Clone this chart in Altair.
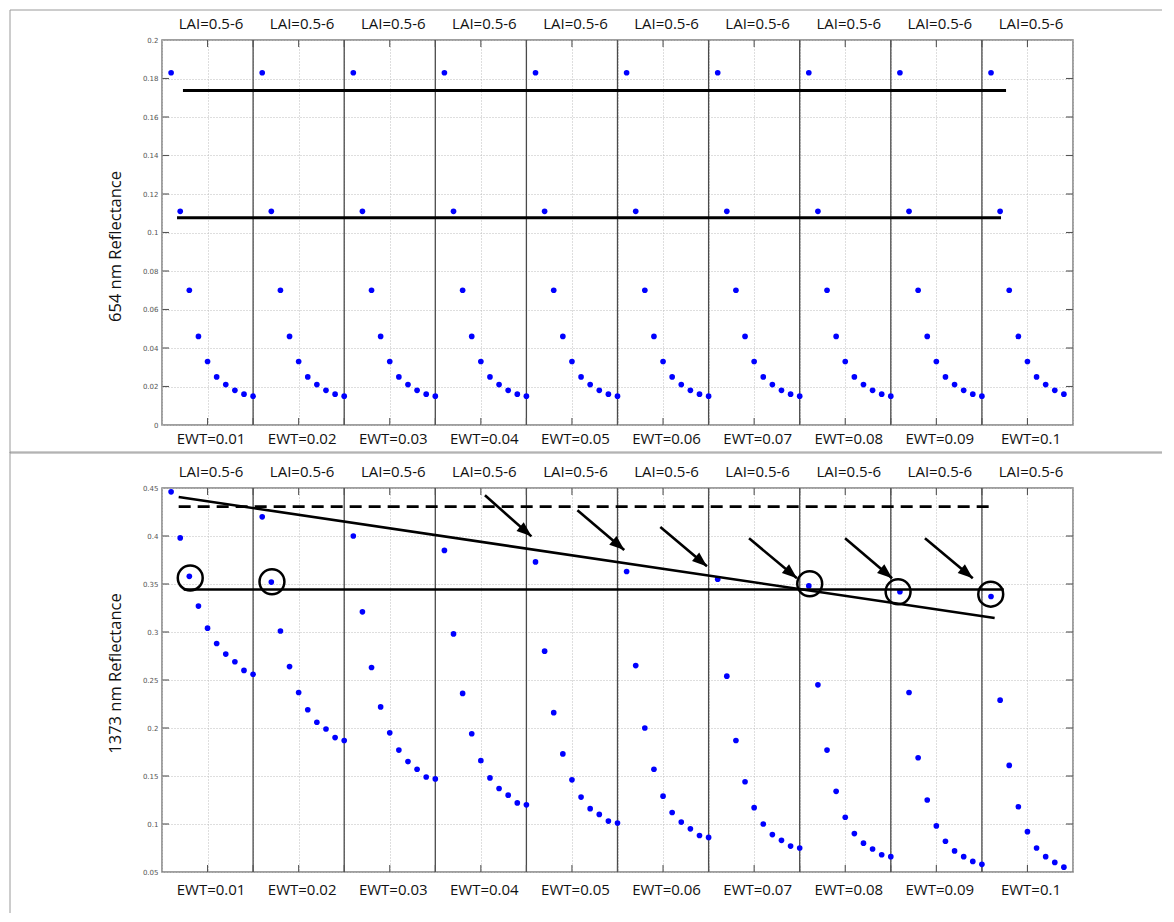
import json
import altair as alt
import pandas as pd

# ---------------- data ----------------
ewt_labels = ["EWT=0.01", "EWT=0.02", "EWT=0.03", "EWT=0.04", "EWT=0.05",
              "EWT=0.06", "EWT=0.07", "EWT=0.08", "EWT=0.09", "EWT=0.1"]
lai_labels = ["LAI=0.5-6"] * 10

# 654 nm reflectance, one list per EWT group (LAI increasing)
r654 = [
    [0.183, 0.111, 0.070, 0.046, 0.033, 0.025, 0.021, 0.018, 0.016, 0.015],
    [0.183, 0.111, 0.070, 0.046, 0.033, 0.025, 0.021, 0.018, 0.016, 0.015],
    [0.183, 0.111, 0.070, 0.046, 0.033, 0.025, 0.021, 0.018, 0.016, 0.015],
    [0.183, 0.111, 0.070, 0.046, 0.033, 0.025, 0.021, 0.018, 0.016, 0.015],
    [0.183, 0.111, 0.070, 0.046, 0.033, 0.025, 0.021, 0.018, 0.016, 0.015],
    [0.183, 0.111, 0.070, 0.046, 0.033, 0.025, 0.021, 0.018, 0.016, 0.015],
    [0.183, 0.111, 0.070, 0.046, 0.033, 0.025, 0.021, 0.018, 0.016, 0.015],
    [0.183, 0.111, 0.070, 0.046, 0.033, 0.025, 0.021, 0.018, 0.016, 0.015],
    [0.183, 0.111, 0.070, 0.046, 0.033, 0.025, 0.021, 0.018, 0.016, 0.015],
    [0.183, 0.111, 0.070, 0.046, 0.033, 0.025, 0.021, 0.018, 0.016],
]

# 1373 nm reflectance
r1373 = [
    [0.446, 0.398, 0.358, 0.327, 0.304, 0.288, 0.277, 0.269, 0.260, 0.256],
    [0.420, 0.352, 0.301, 0.264, 0.237, 0.219, 0.206, 0.199, 0.190, 0.187],
    [0.400, 0.321, 0.263, 0.222, 0.195, 0.177, 0.165, 0.157, 0.149, 0.147],
    [0.385, 0.298, 0.236, 0.194, 0.166, 0.148, 0.137, 0.130, 0.122, 0.120],
    [0.373, 0.280, 0.216, 0.173, 0.146, 0.128, 0.116, 0.110, 0.103, 0.101],
    [0.363, 0.265, 0.200, 0.157, 0.129, 0.112, 0.102, 0.095, 0.088, 0.086],
    [0.355, 0.254, 0.187, 0.144, 0.117, 0.100, 0.089, 0.083, 0.077, 0.075],
    [0.348, 0.245, 0.177, 0.134, 0.107, 0.090, 0.080, 0.074, 0.068, 0.066],
    [0.342, 0.237, 0.169, 0.125, 0.098, 0.082, 0.072, 0.066, 0.061, 0.058],
    [0.337, 0.229, 0.161, 0.118, 0.092, 0.075, 0.066, 0.060, 0.055],
]

top_yticks = [0, 0.02, 0.04, 0.06, 0.08, 0.1, 0.12, 0.14, 0.16, 0.18, 0.2]
bot_yticks = [0.05, 0.1, 0.15, 0.2, 0.25, 0.3, 0.35, 0.4, 0.45]
x_ticks = [0, 5, 10, 15, 20, 25, 30, 35, 40, 45, 50, 55, 60, 65, 70, 75, 80, 85, 90, 95, 100]
separators = [10, 20, 30, 40, 50, 60, 70, 80, 90]
group_centres = [5, 15, 25, 35, 45, 55, 65, 75, 85, 95]

# annotation lines (data units)
top_line_x1 = [2.3, 1.65]
top_line_x2 = [92.65, 92.1]
top_line_y1 = [0.1738, 0.1077]
top_line_y2 = [0.1738, 0.1077]

bot_line_x1 = [2.38, 1.83]
bot_line_x2 = [92.4, 91.4]
bot_line_y1 = [0.3442, 0.4406]
bot_line_y2 = [0.3442, 0.3146]

dash_x1 = [1.83]
dash_x2 = [91.5]
dash_y = [0.4306]

circle_x = [3.1, 12.07, 71.1, 80.8, 90.97]
circle_y = [0.3563, 0.3523, 0.3503, 0.3419, 0.3394]

arrow_x1 = [35.45, 45.6, 54.7, 64.44, 74.98, 83.75]
arrow_y1 = [0.4424, 0.4268, 0.4093, 0.3976, 0.3976, 0.3976]
arrow_x2 = [40.55, 50.74, 59.82, 69.7, 80.14, 89.0]
arrow_y2 = [0.3996, 0.3854, 0.3684, 0.356, 0.356, 0.356]

# ---------------- chart ----------------
W = 911
FONT = "Open Sans"
xs = alt.Scale(domain=[0, 100], nice=False, zero=False)


def points_df(groups):
    rows = []
    for g, vals in enumerate(groups):
        for j, v in enumerate(vals):
            rows.append({"idx": 10 * g + j + 1, "refl": v})
    return pd.DataFrame(rows)


one = pd.DataFrame({"k": [0]})


def rule_px(**kw):
    return alt.Chart(one).mark_rule(color="#9a9a9a", strokeWidth=1).encode(
        **{k: alt.value(v) for k, v in kw.items()})


def panel(groups, yticks, ydom, H, title, title_y, lab_pad_bottom, lab_pad_top, extra, frame):
    ys = alt.Scale(domain=ydom, nice=False, zero=False)
    bottom_axis = alt.Axis(
        orient="bottom",
        values=x_ticks, grid=True, gridColor="#bdbdbd", gridDash=[1, 2], gridWidth=1,
        ticks=False, tickSize=0, domain=False,
        labelExpr="(datum.value % 10 == 5) ? " + json.dumps(ewt_labels) + "[floor(datum.value / 10)] : ''",
        labelFont=FONT, labelFontSize=15, labelColor="#111111", labelPadding=lab_pad_bottom,
        labelOverlap=False, labelFlush=False, labelOffset=3, title=None)
    top_axis = alt.Axis(
        orient="top", values=group_centres, grid=False, ticks=False, tickSize=0, domain=False,
        labelExpr=json.dumps(lai_labels) + "[floor(datum.value / 10)]",
        labelFont=FONT, labelFontSize=15, labelColor="#111111", labelPadding=lab_pad_top,
        labelOverlap=False, labelFlush=False, labelOffset=3, title=None)
    # identical y axis given to every layer with a y field, so that the shared axis merges cleanly
    y_axis = alt.Axis(
        orient="left",
        values=yticks, grid=True, gridColor="#bdbdbd", gridDash=[1, 2], gridWidth=1,
        ticks=False, tickSize=0, domain=False, format=".2~f",
        labelFont="DejaVu Sans", labelFontSize=7, labelColor="#555555", labelPadding=4,
        title=title, titleFont=FONT, titleFontSize=16.5, titleFontWeight="normal",
        titleColor="#111111", titlePadding=19, titleY=title_y)

    def Y(field):
        return alt.Y(field, scale=ys, axis=y_axis)

    pts = alt.Chart(points_df(groups)).mark_circle(size=32, color="#0000ff", opacity=1).encode(
        x=alt.X("idx:Q", scale=xs, axis=bottom_axis), y=Y("refl:Q"))

    seps = alt.Chart(pd.DataFrame({"x": separators})).mark_rule(
        color="#4a4a4a", strokeWidth=1.3).encode(x=alt.X("x:Q", scale=xs, axis=top_axis))

    xt = pd.DataFrame({"x": x_ticks[1:-1]})
    yt = pd.DataFrame({"y": yticks[1:-1]})
    tick_style = dict(color="#555555", strokeWidth=1.1)
    ticks_b = alt.Chart(xt).mark_rule(**tick_style).encode(
        x=alt.X("x:Q", scale=xs, axis=None), y=alt.value(H), y2=alt.value(H - 7))
    ticks_t = alt.Chart(xt).mark_rule(**tick_style).encode(
        x=alt.X("x:Q", scale=xs, axis=None), y=alt.value(0), y2=alt.value(7))
    ticks_l = alt.Chart(yt).mark_rule(**tick_style).encode(
        y=Y("y:Q"), x=alt.value(0.5), x2=alt.value(7))
    ticks_r = alt.Chart(yt).mark_rule(**tick_style).encode(
        y=Y("y:Q"), x=alt.value(W), x2=alt.value(W - 7))

    layers = [seps, ticks_b, ticks_t, ticks_l, ticks_r, pts]
    layers += [f(xs, Y) for f in extra]
    layers += frame
    return alt.layer(*layers).resolve_axis(x="independent").properties(width=W, height=H)


def lines(x1, x2, y1, y2, width=3, dash=None):
    def f(xs, Y):
        kw = dict(color="black", strokeWidth=width)
        if dash:
            kw["strokeDash"] = dash
        return alt.Chart(pd.DataFrame({"x1": x1, "x2": x2, "y1": y1, "y2": y2})).mark_rule(**kw).encode(
            x=alt.X("x1:Q", scale=xs, axis=None), x2="x2:Q",
            y=Y("y1:Q"), y2="y2:Q")
    return f


def circles(xs, Y):
    return alt.Chart(pd.DataFrame({"x": circle_x, "y": circle_y})).mark_point(
        shape="circle", filled=False, size=620, color="black", strokeWidth=2.5, opacity=1).encode(
        x=alt.X("x:Q", scale=xs, axis=None), y=Y("y:Q"))


def arrow_heads(xs, Y):
    hx = [b - 0.12 * (b - a) for a, b in zip(arrow_x1, arrow_x2)]
    hy = [b - 0.12 * (b - a) for a, b in zip(arrow_y1, arrow_y2)]
    return alt.Chart(pd.DataFrame({"x": hx, "y": hy})).mark_point(
        shape="M0,-1L0.75,1L-0.75,1Z", filled=True, size=225, color="black", opacity=1,
        angle=130).encode(
        x=alt.X("x:Q", scale=xs, axis=None), y=Y("y:Q"))


top_frame = [
    rule_px(x=-152, x2=1000, y=-30),
    rule_px(x=-152, y=-30, y2=413),
    rule_px(x=-152, x2=1000, y=413),
]
bot_frame = [
    rule_px(x=-152, x2=1000, y=-36),
    rule_px(x=-152, y=-36, y2=425),
]

top = panel(r654, top_yticks, [0, 0.2], 385, "654 nm Reflectance", 206, 6, 9,
            [lines(top_line_x1, top_line_x2, top_line_y1, top_line_y2, 3)], top_frame)

bottom = panel(r1373, bot_yticks, [0.05, 0.45], 384, "1373 nm Reflectance", 185, 10, 9,
               [lines(bot_line_x1, bot_line_x2, bot_line_y1, bot_line_y2, 2.6),
                lines(dash_x1, dash_x2, dash_y, dash_y, 2.6, [12, 7]),
                circles,
                lines(arrow_x1, arrow_x2, arrow_y1, arrow_y2, 2.6),
                arrow_heads], bot_frame)

chart = alt.vconcat(top, bottom, spacing=-5).properties(
    padding={"left": 0, "top": 0, "right": 0, "bottom": 0}
).configure_view(stroke="#808080", strokeWidth=1.5)

chart.save("out.html", embed_options={"renderer": "svg", "actions": False})
